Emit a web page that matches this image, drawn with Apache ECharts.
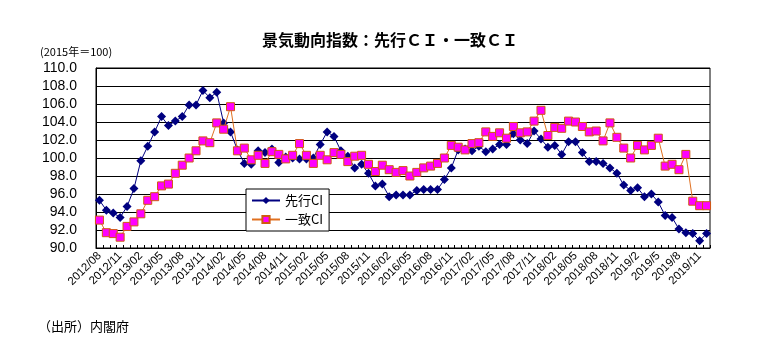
<!DOCTYPE html>
<html><head><meta charset="utf-8">
<script src="https://cdn.jsdelivr.net/npm/echarts@6/dist/echarts.min.js"></script>
<style>html,body{margin:0;padding:0;background:#fff}#c{width:767px;height:360px}</style>
</head><body><div id="c"></div>
<script>
var months = [
'2012/08','2012/09','2012/10','2012/11','2012/12',
'2013/01','2013/02','2013/03','2013/04','2013/05','2013/06','2013/07','2013/08','2013/09','2013/10','2013/11','2013/12',
'2014/01','2014/02','2014/03','2014/04','2014/05','2014/06','2014/07','2014/08','2014/09','2014/10','2014/11','2014/12',
'2015/01','2015/02','2015/03','2015/04','2015/05','2015/06','2015/07','2015/08','2015/09','2015/10','2015/11','2015/12',
'2016/01','2016/02','2016/03','2016/04','2016/05','2016/06','2016/07','2016/08','2016/09','2016/10','2016/11','2016/12',
'2017/01','2017/02','2017/03','2017/04','2017/05','2017/06','2017/07','2017/08','2017/09','2017/10','2017/11','2017/12',
'2018/01','2018/02','2018/03','2018/04','2018/05','2018/06','2018/07','2018/08','2018/09','2018/10','2018/11','2018/12',
'2019/1','2019/2','2019/3','2019/4','2019/5','2019/6','2019/7','2019/8','2019/9','2019/10','2019/11','2019/12'
];
var leadingCI = [
95.3,94.2,93.9,93.4,94.6,
96.6,99.7,101.3,102.9,104.6,103.6,104.1,104.6,105.9,105.9,107.5,106.7,
107.3,103.9,102.9,100.9,99.4,99.3,100.8,100.6,101.0,99.5,100.1,100.0,
99.9,99.9,100.0,101.5,102.9,102.4,100.8,100.2,98.9,99.3,98.3,96.9,
97.1,95.7,95.9,95.9,95.9,96.4,96.5,96.5,96.5,97.6,98.9,100.9,
101.0,100.8,101.3,100.7,101.0,101.5,101.5,102.7,102.0,101.6,103.0,102.1,
101.2,101.4,100.4,101.8,101.8,100.6,99.6,99.6,99.4,98.9,98.3,97.0,
96.4,96.7,95.7,96.0,95.1,93.6,93.4,92.1,91.7,91.6,90.8,91.6
];
var coincidentCI = [
93.1,91.7,91.6,91.2,92.4,
92.9,93.8,95.3,95.7,96.9,97.1,98.3,99.2,100.0,100.8,101.9,101.7,
103.9,103.2,105.7,100.8,101.1,99.8,100.3,99.4,100.7,100.4,99.9,100.3,
101.6,100.3,99.4,100.3,99.8,100.6,100.4,99.6,100.2,100.3,99.3,98.5,
99.2,98.7,98.4,98.6,98.0,98.4,98.9,99.1,99.4,100.0,101.4,101.2,
100.9,101.6,101.7,102.9,102.4,102.8,102.2,103.5,102.8,102.9,104.1,105.3,
102.5,103.4,103.3,104.1,104.0,103.5,102.9,103.0,101.9,103.9,102.3,101.1,
100.0,101.4,100.9,101.4,102.2,99.1,99.3,98.7,100.4,95.2,94.7,94.7
];
var seriesNames = ['先行CI','一致CI'];
var titleText = '景気動向指数：先行ＣＩ・一致ＣＩ';
var unitText = '(2015年＝100)';
var sourceText = '（出所）内閣府';

var chart = echarts.init(document.getElementById('c'), null, {renderer:'canvas'});
chart.setOption({
  backgroundColor:'#fff',
  animation:false,
  title:[
    {text:titleText,top:32,padding:0,left:262,textStyle:{fontSize:16,fontWeight:'bold',color:'#000',fontFamily:'"Noto Sans CJK JP", sans-serif'}},
    {text:unitText,left:40,top:46,padding:0,textStyle:{fontSize:11,fontWeight:'normal',color:'#000',fontFamily:'"Noto Sans CJK JP", sans-serif'}},
    {text:sourceText,left:38,top:320,padding:0,textStyle:{fontSize:13,fontWeight:'normal',color:'#000',fontFamily:'"Noto Sans CJK JP", sans-serif'}}
  ],
  legend:{
    orient:'vertical',left:246,top:189,
    padding:[5,6,5,5],
    itemGap:6,
    itemWidth:28,itemHeight:9,
    borderColor:'#000',borderWidth:1,
    backgroundColor:'#fff',
    textStyle:{fontSize:13,color:'#000',fontFamily:'"Noto Sans CJK JP", sans-serif'},
    data:seriesNames
  },
  grid:{left:96,right:57,top:68,bottom:112,show:true,borderColor:'#000',borderWidth:1,containLabel:false},
  xAxis:{
    type:'category',data:months,boundaryGap:true,
    axisLine:{lineStyle:{color:'#000',width:1}},
    axisTick:{show:true,inside:true,length:3,interval:0,lineStyle:{color:'#000'}},
    axisLabel:{interval:2,rotate:45,margin:6,fontSize:11.5,color:'#000',fontFamily:'"Liberation Sans", Arial, sans-serif'},
    splitLine:{show:false}
  },
  yAxis:{
    type:'value',min:90,max:110,interval:2,
    axisLine:{show:true,lineStyle:{color:'#000'}},
    axisTick:{show:false},
    axisLabel:{margin:19,fontSize:14,color:'#000',fontFamily:'"Liberation Sans", Arial, sans-serif',formatter:function(v){return v.toFixed(1);}},
    splitLine:{show:true,lineStyle:{color:'#000',width:1}}
  },
  series:[
    {name:seriesNames[0],type:'line',data:leadingCI,symbol:'diamond',symbolSize:9,showAllSymbol:true,
     lineStyle:{color:'#000080',width:1},itemStyle:{color:'#000080',borderWidth:0},z:2},
    {name:seriesNames[1],type:'line',data:coincidentCI,symbol:'rect',symbolSize:8,showAllSymbol:true,
     lineStyle:{color:'#E07020',width:1},itemStyle:{color:'#FF00FF',borderColor:'#D05A10',borderWidth:1},z:3}
  ]
});
</script></body></html>
